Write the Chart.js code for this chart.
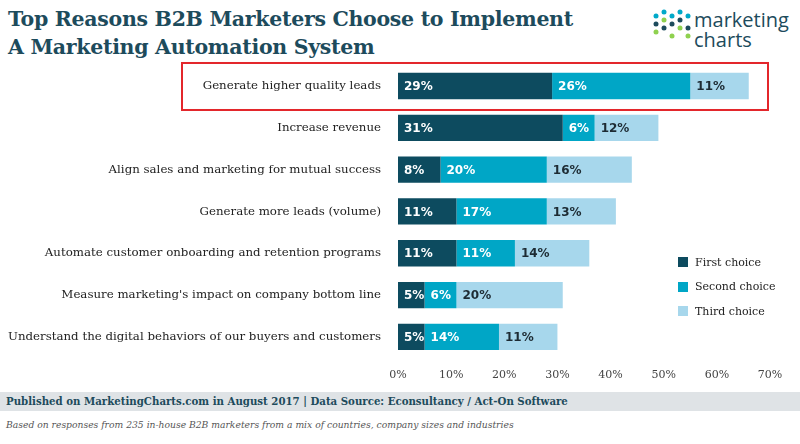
<!DOCTYPE html>
<html><head><meta charset="utf-8">
<script src="https://cdn.jsdelivr.net/npm/chart.js@4"></script>
<style>
body{margin:0;width:800px;height:444px;background:#fff;position:relative;overflow:hidden;font-family:"DejaVu Serif",serif}
#title{position:absolute;left:8px;top:5px;font:bold 20.5px "DejaVu Serif",serif;color:#1d4b5c;line-height:28px;letter-spacing:-0.3px}
#logo{position:absolute;left:652px;top:8px;}
#logo .t{position:absolute;left:42px;top:2px;font:20px "Open Sans",sans-serif;color:#1d4b5c;line-height:20px;white-space:nowrap}
#wrap{position:absolute;left:0;top:49px;width:800px;height:336px}
#foot1{position:absolute;left:0;top:392px;width:800px;height:19px;background:#dfe3e6;font:bold 10.2px "DejaVu Serif",serif;color:#1d4b5c;line-height:19px;padding-left:6px;box-sizing:border-box}
#foot2{position:absolute;left:6px;top:419px;font:italic 9.2px "DejaVu Serif",serif;color:#555}
#legend{position:absolute;left:678px;top:250px;font:11px "DejaVu Serif",serif;color:#222}
#legend div{height:24.5px;display:flex;align-items:center}
#legend span{display:inline-block;width:10px;height:10px;margin-right:7px}
</style></head><body>
<div id="title">Top Reasons B2B Marketers Choose to Implement<br>A Marketing Automation System</div>
<div id="logo">
<svg width="40" height="40">
<g fill="#00a9c9"><circle cx="4" cy="8" r="2.5"/><circle cx="12" cy="4" r="2.5"/><circle cx="20" cy="8" r="2.5"/><circle cx="28" cy="4" r="2.5"/><circle cx="36" cy="8" r="2.5"/></g>
<g fill="#1d4b5c"><circle cx="4" cy="16" r="2.5"/><circle cx="12" cy="20" r="2.5"/><circle cx="20" cy="16" r="2.5"/><circle cx="28" cy="12" r="2.5"/><circle cx="36" cy="20" r="2.5"/></g>
<g fill="#8fd14f"><circle cx="12" cy="12" r="2.5"/><circle cx="28" cy="20" r="2.5"/><circle cx="4" cy="24" r="2.5"/><circle cx="20" cy="28" r="2.5"/><circle cx="36" cy="28" r="2.5"/></g>
</svg>
<div class="t">marketing<br>charts</div></div>
<div id="wrap"><canvas id="c"></canvas></div>
<div id="legend">
<div><span style="background:#0d4b5f"></span>First choice</div>
<div><span style="background:#00a6c6"></span>Second choice</div>
<div><span style="background:#a7d7ec"></span>Third choice</div>
</div>
<div id="foot1">Published on MarketingCharts.com in August 2017 | Data Source: Econsultancy / Act-On Software</div>
<div id="foot2">Based on responses from 235 in-house B2B marketers from a mix of countries, company sizes and industries</div>
<script>
const categories=["Generate higher quality leads","Increase revenue","Align sales and marketing for mutual success","Generate more leads (volume)","Automate customer onboarding and retention programs","Measure marketing's impact on company bottom line","Understand the digital behaviors of our buyers and customers"];
const firstChoice=[29,31,8,11,11,5,5];
const secondChoice=[26,6,20,17,11,6,14];
const thirdChoice=[11,12,16,13,14,20,11];
const seriesNames=["First choice","Second choice","Third choice"];
const colors=["#0d4b5f","#00a6c6","#a7d7ec"];
const labelPlugin={id:'lbl',afterDatasetsDraw(ch){
 const c=ch.ctx;c.save();c.font='bold 12px "DejaVu Sans",sans-serif';c.textBaseline='middle';
 ch.data.datasets.forEach((ds,i)=>{ch.getDatasetMeta(i).data.forEach((b,j)=>{
  c.fillStyle=i==2?'#1d2b33':'#fff';
  c.fillText(ds.data[j]+'%',b.base+6,b.y+1);});});
 const y=ch.scales.y.getPixelForValue(0);
 c.strokeStyle='#e3262b';c.lineWidth=2;c.strokeRect(182,y-23,586,47);
 c.restore();}};
new Chart(document.getElementById('c'),{type:'bar',
 data:{labels:categories,datasets:[firstChoice,secondChoice,thirdChoice].map((d,i)=>({label:seriesNames[i],data:d,backgroundColor:colors[i],barPercentage:0.63,categoryPercentage:1}))},
 options:{indexAxis:'y',responsive:true,maintainAspectRatio:false,animation:false,
  layout:{padding:{top:5,right:30,left:0,bottom:0}},
  plugins:{legend:{display:false},tooltip:{enabled:false}},
  scales:{
   x:{stacked:true,min:0,max:70,grid:{display:false},border:{display:false},
      ticks:{stepSize:10,callback:v=>v+'%',color:'#444',font:{family:'"DejaVu Serif"',size:11}}},
   y:{stacked:true,grid:{display:false},border:{display:false},afterFit(s){s.width=398;},
      ticks:{color:'#222',padding:9,font:{family:'"DejaVu Serif"',size:11.8}}}}},
 plugins:[labelPlugin]});
</script></body></html>
